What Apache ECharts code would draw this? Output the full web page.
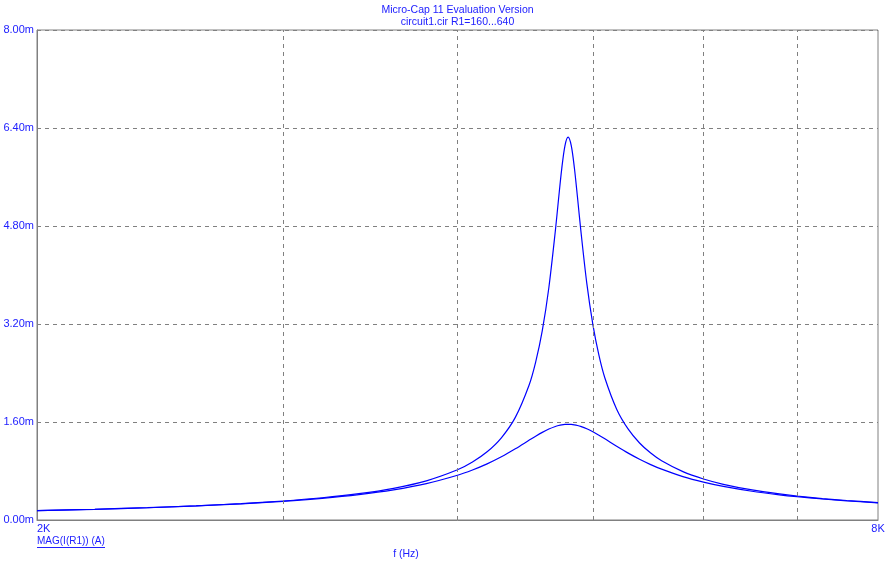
<!DOCTYPE html>
<html><head><meta charset="utf-8">
<script src="https://cdn.jsdelivr.net/npm/echarts@6/dist/echarts.min.js"></script>
<style>html,body{margin:0;padding:0;background:#fff}#c{width:896px;height:564px}</style>
</head><body><div id="c"></div>
<script>
// frequency (Hz)
var freq = [2000,2200,2400,2600,2800,3000,3200,3400,3600,3800,4000,4100,4200,4300,4400,4500,4550,4600,4650,4700,4725,4750,4775,4800,4825,4850,4875,4900,4950,5000,5050,5100,5200,5300,5400,5500,5600,5800,6000,6200,6500,6800,7000,7300,7600,8000];
// MAG(I(R1)) in mA, R1=160
var iR160 = [0.1527,0.1758,0.2019,0.2321,0.2677,0.3104,0.3630,0.4298,0.5177,0.6393,0.8193,0.9462,1.1132,1.3425,1.6755,2.1964,2.5791,3.0927,3.7926,4.7188,5.2411,5.7376,6.1099,6.2500,6.1114,5.7468,5.2651,4.7606,3.8674,3.1906,2.6920,2.3193,1.8099,1.4830,1.2572,1.0925,0.9672,0.7895,0.6695,0.5830,0.4907,0.4253,0.3914,0.3505,0.3180,0.2838];
// MAG(I(R1)) in mA, R1=640
var iR640 = [0.1521,0.1747,0.2004,0.2298,0.2641,0.3048,0.3542,0.4153,0.4930,0.5944,0.7306,0.8162,0.9163,1.0321,1.1623,1.3005,1.3680,1.4307,1.4849,1.5269,1.5423,1.5535,1.5602,1.5625,1.5603,1.5536,1.5429,1.5283,1.4893,1.4400,1.3841,1.3247,1.2045,1.0919,0.9918,0.9047,0.8296,0.7092,0.6184,0.5484,0.4694,0.4113,0.3804,0.3425,0.3120,0.2795];
var gridFreqs = [3000,4000,5000,6000,7000];
var yTicks = [0,1.6,3.2,4.8,6.4,8.0];
var titleLines = ['Micro-Cap 11 Evaluation Version','circuit1.cir R1=160...640'];

var blue = '#2020ff';
var ff = '"Liberation Sans", Arial, sans-serif';
function pairs(a){ return freq.map(function(f,i){ return [f, a[i]]; }); }

var chart = echarts.init(document.getElementById('c'), null, {renderer:'canvas'});
chart.setOption({
  animation:false,
  backgroundColor:'#ffffff',
  grid:{left:37,right:18,top:30,bottom:44,show:true,borderColor:'#808080',borderWidth:1,backgroundColor:'transparent'},
  xAxis:{type:'log',min:2000,max:8000,logBase:10,
    axisLine:{show:true,lineStyle:{color:'#808080',width:1}},
    axisTick:{show:false},splitLine:{show:false},minorTick:{show:false},
    axisLabel:{show:true,color:blue,fontSize:11,fontFamily:ff,margin:3,
      showMinLabel:true,showMaxLabel:true,alignMinLabel:'left',alignMaxLabel:'center',
      formatter:function(v){ if(Math.abs(v-2000)<1) return '2K'; if(Math.abs(v-8000)<1) return '8K'; return ''; }
    }
  },
  yAxis:{type:'value',min:yTicks[0],max:yTicks[yTicks.length-1],interval:1.6,
    axisLine:{show:true,lineStyle:{color:'#808080',width:1}},
    axisTick:{show:false},
    splitLine:{show:true,lineStyle:{color:'#808080',type:[4,4],width:1}},
    axisLabel:{color:blue,fontSize:11,fontFamily:ff,margin:3,
      formatter:function(v){ return v.toFixed(2)+'m'; }}
  },
  series:[
    {type:'line',data:pairs(iR160),smooth:0.3,showSymbol:false,lineStyle:{color:'#0000ff',width:1.2},
     markLine:{silent:true,symbol:['none','none'],label:{show:false},
       lineStyle:{color:'#808080',type:[4,4],width:1},
       data:gridFreqs.map(function(f){return {xAxis:f};})}},
    {type:'line',data:pairs(iR640),smooth:0.3,showSymbol:false,lineStyle:{color:'#0000ff',width:1.2}}
  ],
  graphic:[
    {type:'text',x:457.5,y:10,style:{text:titleLines[0],fill:blue,font:'10.5px '+ff,align:'center',verticalAlign:'middle'}},
    {type:'text',x:457.5,y:22.5,style:{text:titleLines[1],fill:blue,font:'10.5px '+ff,align:'center',verticalAlign:'middle'}},
    {type:'text',x:37,y:541,style:{text:'MAG(I(R1)) (A)',fill:blue,font:'10px '+ff,align:'left',verticalAlign:'middle'}},
    {type:'line',shape:{x1:37,y1:547.5,x2:105,y2:547.5},style:{stroke:blue,lineWidth:1}},
    {type:'text',x:406,y:554,style:{text:'f (Hz)',fill:blue,font:'10.5px '+ff,align:'center',verticalAlign:'middle'}}
  ]
});
</script></body></html>
